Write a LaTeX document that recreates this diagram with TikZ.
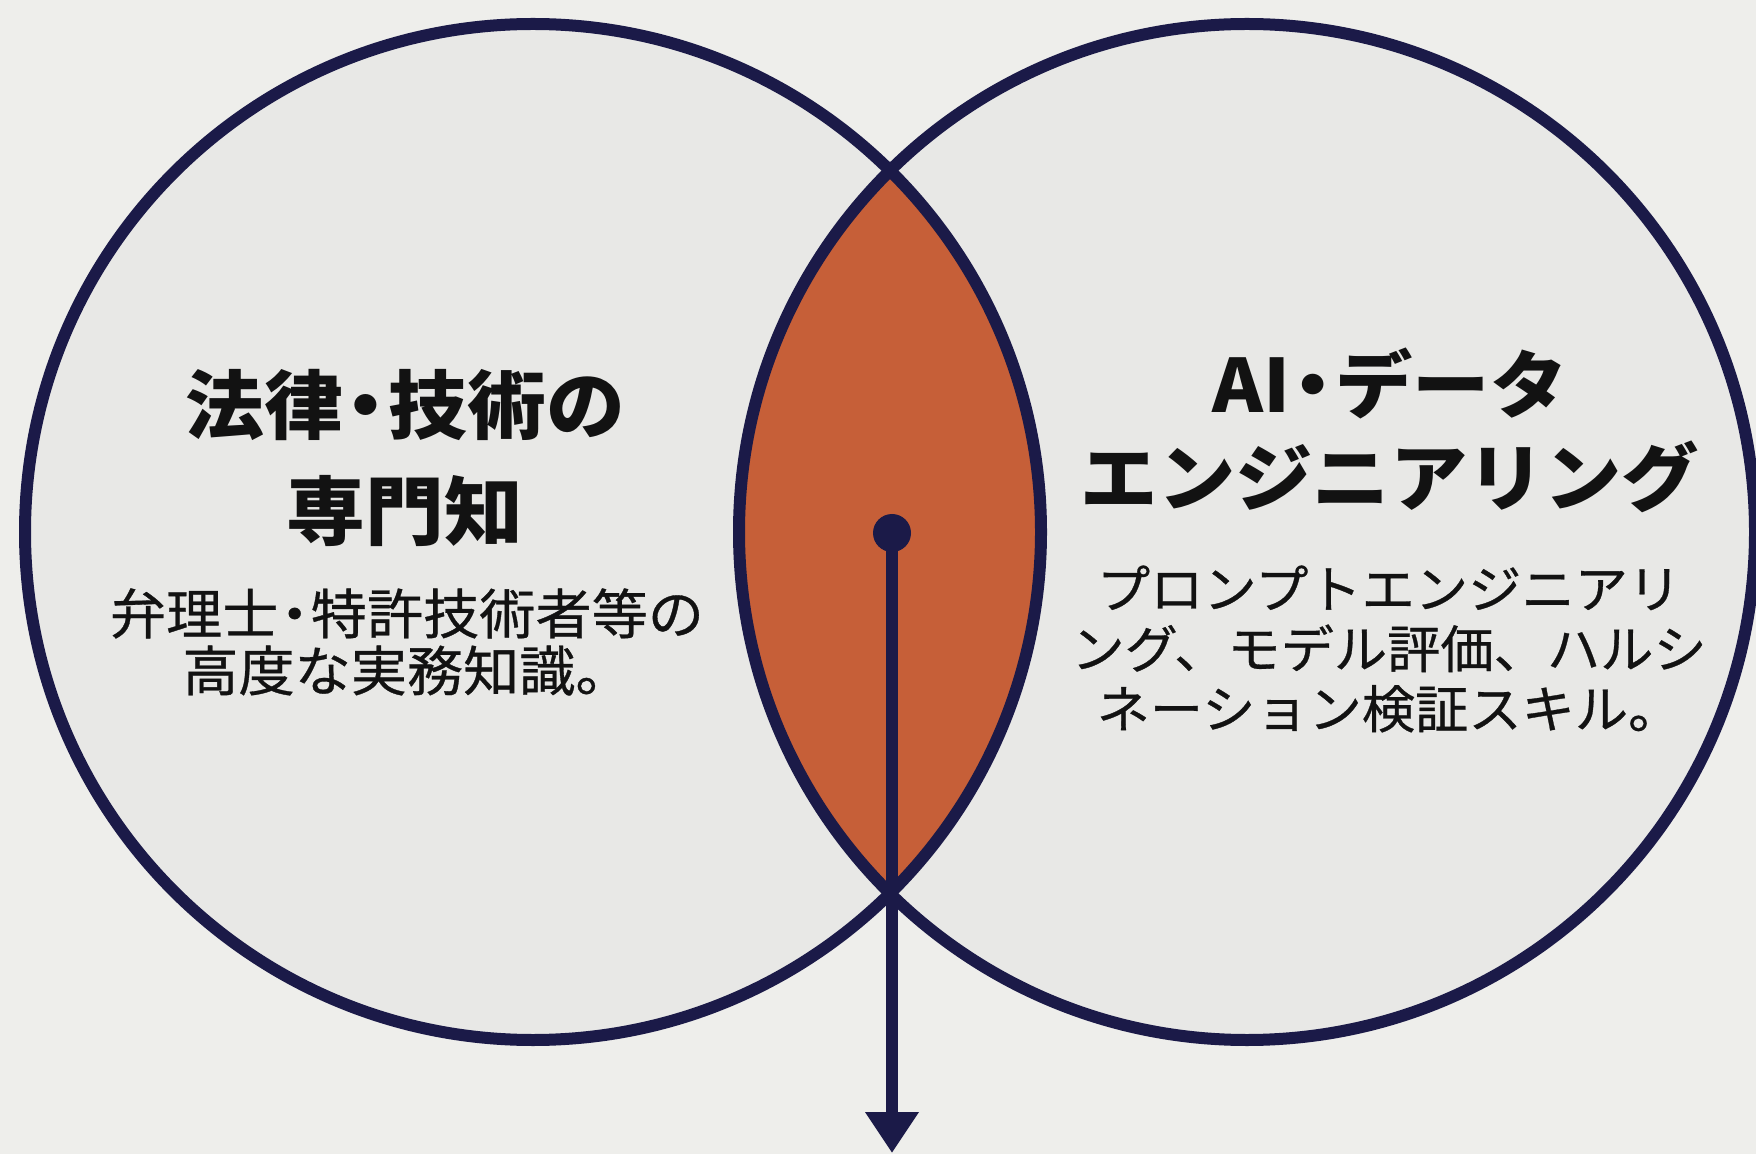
\documentclass[tikz,border=0pt]{standalone}
\usepackage{fontspec}
\usetikzlibrary{arrows.meta}
\newfontfamily\jpt[FakeStretch=1.05]{Noto Sans CJK JP}
\newfontfamily\jpb[FakeStretch=1.04,FakeBold=0.6]{Noto Sans CJK JP}
\newcommand{\nd}{\kern-0.22em・\kern-0.22em}
\definecolor{bgc}{HTML}{EEEEEB}
\definecolor{circfill}{HTML}{E8E8E6}
\definecolor{navy}{HTML}{1B1A48}
\definecolor{lensc}{HTML}{C65F38}
\definecolor{txt}{HTML}{121212}
\begin{document}
\begin{tikzpicture}[x=0.5pt,y=-0.5pt,
  venn/.style={circle, minimum size=508pt, inner sep=0pt, outer sep=0pt},
  outline/.style={draw=navy, line width=6pt},
  title/.style={font=\jpt\bfseries\fontsize{37.5pt}{53pt}\selectfont, text=txt, align=center, inner sep=0pt},
  body/.style={font=\jpb\fontsize{27pt}{28.5pt}\selectfont, text=txt, align=center, inner sep=0pt}]
\fill[bgc] (0,0) rectangle (1756,1154);
\useasboundingbox (0,0) rectangle (1756,1154);
\node[venn, fill=circfill] (L) at (533,532) {};
\node[venn, fill=circfill] (R) at (1247,532) {};
\begin{scope}
  \clip (L.center) circle[radius=254pt];
  \fill[lensc] (R.center) circle[radius=254pt];
\end{scope}
\draw[outline] (L.center) circle[radius=254pt];
\draw[outline] (R.center) circle[radius=254pt];
\node[title] (lt) at (405,458) {法律\nd 技術の\\専門知};
\node[body] (lb) at (407,642) {弁理士\nd 特許技術者等の\\高度な実務知識。};
\node[title, font=\jpt\bfseries\fontsize{36.8pt}{46.5pt}\selectfont] (rt) at (1390,430) {AI\nd データ\\エンジニアリング};
\node[body, font=\jpb\fontsize{25.6pt}{30pt}\selectfont] (rb) at (1389,649) {プロンプトエンジニアリ\\ング、モデル評価、ハルシ\\ネーション検証スキル。};
\node[circle, fill=navy, minimum size=19pt, inner sep=0pt] (dot) at (892,533) {};
\coordinate (tip) at (892,1153);
\draw[navy, line width=6pt, -{Triangle[width=25.5pt,length=20.5pt]}] (dot.center) -- (tip);
\end{tikzpicture}
\end{document}
